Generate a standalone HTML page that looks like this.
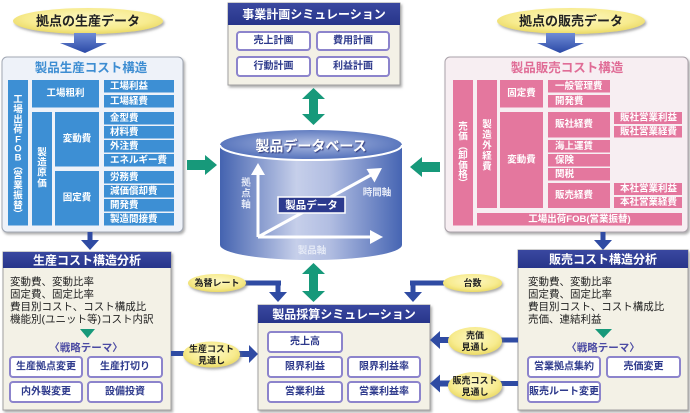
<!DOCTYPE html>
<html><head><meta charset="utf-8"><style>
html,body{margin:0;padding:0;background:#fff;}
svg{display:block;}
text{font-family:"Liberation Sans","Noto Sans CJK JP",sans-serif;dominant-baseline:central;text-anchor:middle;}
.c{fill:#fff;font-size:9.5px;font-weight:700;}
.l{text-anchor:start;}
.b{fill:#2e3a8c;font-size:10px;font-weight:700;}
.h{fill:#fff;font-size:12px;font-weight:700;}
.t{fill:#222;font-size:10.5px;text-anchor:start;}
.e{fill:#222;font-size:9px;font-weight:700;}
.ax{fill:#e4e9f6;font-size:9.5px;font-weight:700;}
</style></head><body>
<svg width="690" height="413" viewBox="0 0 690 413" xmlns="http://www.w3.org/2000/svg">
<defs>
 <radialGradient id="yel" cx="50%" cy="40%" r="60%">
  <stop offset="0" stop-color="#fdf8c4"/><stop offset="0.7" stop-color="#f7eb8e"/><stop offset="1" stop-color="#ead964"/>
 </radialGradient>
 <linearGradient id="cyl" x1="0" x2="1" y1="0" y2="0">
  <stop offset="0" stop-color="#4463b0"/><stop offset="0.42" stop-color="#c6cfea"/><stop offset="0.6" stop-color="#b2bee2"/><stop offset="1" stop-color="#4665b3"/>
 </linearGradient>
 <radialGradient id="cyltop" cx="50%" cy="45%" r="55%">
  <stop offset="0" stop-color="#aebce2"/><stop offset="1" stop-color="#5270ba"/>
 </radialGradient>
 <linearGradient id="barr" x1="0" y1="0" x2="0" y2="1">
  <stop offset="0" stop-color="#6f8cd6"/><stop offset="1" stop-color="#2b49a6"/>
 </linearGradient>
 <linearGradient id="hdr" x1="0" y1="0" x2="0" y2="1">
  <stop offset="0" stop-color="#3a48a0"/><stop offset="1" stop-color="#27358a"/>
 </linearGradient>
 <filter id="sh" x="-10%" y="-10%" width="130%" height="140%">
  <feDropShadow dx="1.5" dy="2" stdDeviation="1.3" flood-color="#777" flood-opacity="0.6"/>
 </filter>
 <filter id="tsh" x="-10%" y="-30%" width="120%" height="160%">
  <feDropShadow dx="1" dy="1" stdDeviation="0.6" flood-color="#1d2a70" flood-opacity="0.9"/>
 </filter>
</defs>

<!-- ===== Top-left ellipse + arrow ===== -->
<ellipse cx="88" cy="21" rx="75" ry="13" fill="url(#yel)" filter="url(#sh)"/>
<text x="88" y="21" style="font-size:13px;font-weight:700;fill:#222">拠点の生産データ</text>
<polygon points="74,33 96,33 96,43 107,43 85,53 60,43 74,43" fill="url(#barr)"/>

<!-- ===== Top-right ellipse + arrow ===== -->
<ellipse cx="571" cy="21" rx="74" ry="13" fill="url(#yel)" filter="url(#sh)"/>
<text x="571" y="21" style="font-size:13px;font-weight:700;fill:#222">拠点の販売データ</text>
<polygon points="546,33 575,33 575,43 584,43 560,53 537,43 546,43" fill="url(#barr)"/>

<!-- ===== Left cost box ===== -->
<rect x="2" y="57" width="181" height="175" rx="5" fill="#eef2f9" stroke="#a2a8b4" filter="url(#sh)"/>
<text x="91" y="68" style="font-size:12.5px;font-weight:700;fill:#3d8dd2">製品生産コスト構造</text>
<g fill="#3d8fd4">
 <rect x="8" y="80" width="20" height="145.5"/>
 <rect x="32" y="80" width="67" height="27.5"/>
 <rect x="32" y="112" width="20" height="113.5"/>
 <rect x="55" y="112" width="44" height="54.5"/>
 <rect x="55" y="171" width="44" height="54.5"/>
 <rect x="104" y="80" width="70" height="12.5"/>
 <rect x="104" y="95" width="70" height="12.5"/>
 <rect x="104" y="112" width="70" height="12.5"/>
 <rect x="104" y="126" width="70" height="12.5"/>
 <rect x="104" y="140" width="70" height="12.5"/>
 <rect x="104" y="154" width="70" height="12.5"/>
 <rect x="104" y="171" width="70" height="12.5"/>
 <rect x="104" y="185" width="70" height="12.5"/>
 <rect x="104" y="199" width="70" height="12.5"/>
 <rect x="104" y="213" width="70" height="12.5"/>
</g>
<g class="c">
 <text class="c" x="65.5" y="93.5">工場粗利</text>
 <text class="c" x="77" y="139">変動費</text>
 <text class="c" x="77" y="198">固定費</text>
 <text class="c l" x="110" y="86.5">工場利益</text>
 <text class="c l" x="110" y="101.5">工場経費</text>
 <text class="c l" x="110" y="118.5">金型費</text>
 <text class="c l" x="110" y="132.5">材料費</text>
 <text class="c l" x="110" y="146.5">外注費</text>
 <text class="c l" x="110" y="160.5">エネルギー費</text>
 <text class="c l" x="110" y="177.5">労務費</text>
 <text class="c l" x="110" y="191.5">減価償却費</text>
 <text class="c l" x="110" y="205.5">開発費</text>
 <text class="c l" x="110" y="219.5">製造間接費</text>
 <!-- vertical 工場出荷FOB(営業振替) -->
 <text class="c" x="18" y="100">工</text>
 <text class="c" x="18" y="110">場</text>
 <text class="c" x="18" y="120">出</text>
 <text class="c" x="18" y="130">荷</text>
 <text class="c" x="18" y="140">F</text>
 <text class="c" x="18" y="149">O</text>
 <text class="c" x="18" y="158">B</text>
 <text class="c" x="18" y="167">︵</text>
 <text class="c" x="18" y="176">営</text>
 <text class="c" x="18" y="186">業</text>
 <text class="c" x="18" y="196">振</text>
 <text class="c" x="18" y="206">替</text>
 <text class="c" x="18" y="215">︶</text>
 <!-- vertical 製造原価 -->
 <text class="c" x="42" y="153">製</text>
 <text class="c" x="42" y="163">造</text>
 <text class="c" x="42" y="173">原</text>
 <text class="c" x="42" y="184">価</text>
</g>

<!-- ===== Right cost box ===== -->
<rect x="445" y="57" width="243" height="175" rx="5" fill="#f7eef2" stroke="#aaa2aa" filter="url(#sh)"/>
<text x="567" y="68" style="font-size:12.5px;font-weight:700;fill:#e06c96">製品販売コスト構造</text>
<g fill="#e4779e">
 <rect x="453" y="80" width="20" height="145.5"/>
 <rect x="477" y="80" width="20" height="128"/>
 <rect x="500" y="80" width="43" height="27.5"/>
 <rect x="500" y="112" width="43" height="96"/>
 <rect x="548" y="80" width="62" height="12.5"/>
 <rect x="548" y="95" width="62" height="12.5"/>
 <rect x="548" y="112" width="62" height="25.5"/>
 <rect x="548" y="140" width="62" height="12.5"/>
 <rect x="548" y="154" width="62" height="12.5"/>
 <rect x="548" y="168" width="62" height="12.5"/>
 <rect x="548" y="183" width="62" height="25"/>
 <rect x="614" y="112" width="68" height="12"/>
 <rect x="614" y="126" width="68" height="11.5"/>
 <rect x="614" y="183" width="68" height="12"/>
 <rect x="614" y="197" width="68" height="11"/>
 <rect x="477" y="213" width="205" height="12.5"/>
</g>
<g>
 <text class="c" x="521.5" y="93.5">固定費</text>
 <text class="c" x="521.5" y="160">変動費</text>
 <text class="c l" x="555" y="86.5">一般管理費</text>
 <text class="c l" x="555" y="101.5">開発費</text>
 <text class="c l" x="555" y="124.5">販社経費</text>
 <text class="c l" x="555" y="146.5">海上運賃</text>
 <text class="c l" x="555" y="160.5">保険</text>
 <text class="c l" x="555" y="174.5">関税</text>
 <text class="c l" x="555" y="195.5">販売経費</text>
 <text class="c l" x="620" y="118">販社営業利益</text>
 <text class="c l" x="620" y="132">販社営業経費</text>
 <text class="c l" x="620" y="189">本社営業利益</text>
 <text class="c l" x="620" y="202.5">本社営業経費</text>
 <text class="c" x="579.5" y="219.5">工場出荷FOB(営業振替)</text>
 <text class="c" x="463" y="127">売</text>
 <text class="c" x="463" y="137">価</text>
 <text class="c" x="463" y="147">︵</text>
 <text class="c" x="463" y="156">卸</text>
 <text class="c" x="463" y="166">価</text>
 <text class="c" x="463" y="175">格</text>
 <text class="c" x="463" y="184">︶</text>
 <text class="c" x="487" y="125">製</text>
 <text class="c" x="487" y="135.5">造</text>
 <text class="c" x="487" y="146">外</text>
 <text class="c" x="487" y="156.5">経</text>
 <text class="c" x="487" y="167">費</text>
</g>

<!-- ===== Top simulation box ===== -->
<rect x="228" y="3" width="172" height="82" fill="#f3f1e6" stroke="#a0a0a0" filter="url(#sh)"/>
<rect x="228" y="3" width="172" height="22" fill="url(#hdr)"/>
<text class="h" x="314" y="14.5">事業計画シミュレーション</text>
<g fill="#fff" stroke="#8c84cc" stroke-width="2">
 <rect x="237" y="32" width="73" height="18" rx="3"/>
 <rect x="317" y="32" width="72" height="18" rx="3"/>
 <rect x="237" y="57" width="73" height="19" rx="3"/>
 <rect x="317" y="57" width="72" height="19" rx="3"/>
</g>
<text class="b" x="273.5" y="41">売上計画</text>
<text class="b" x="353" y="41">費用計画</text>
<text class="b" x="273.5" y="66.5">行動計画</text>
<text class="b" x="353" y="66.5">利益計画</text>

<!-- ===== Green arrows ===== -->
<g fill="#17997a">
 <polygon points="313.5,88 325,99 318,99 318,114 325,114 313.5,125 302,114 309,114 309,99 302,99"/>
 <polygon points="313.5,263 325,274 318,274 318,291 325,291 313.5,302 302,291 309,291 309,274 302,274"/>
 <polygon points="187,160 205,160 205,155 217,165 205,175 205,170 187,170"/>
 <polygon points="440,162 422,162 422,157 410,167 422,177 422,172 440,172"/>
</g>

<!-- ===== Cylinder ===== -->
<path d="M220,145 L220,245 A91,15 0 0 0 402,245 L402,145 Z" fill="url(#cyl)"/>
<ellipse cx="311" cy="145" rx="91" ry="15" fill="url(#cyltop)"/>
<path d="M220,145 A91,15 0 0 0 402,145" fill="none" stroke="#fff" stroke-width="2"/>
<text x="311" y="146" filter="url(#tsh)" style="font-size:14px;font-weight:700;fill:#fff">製品データベース</text>
<g stroke="#fff" stroke-width="3" fill="none">
 <line x1="258" y1="237" x2="258" y2="173"/>
 <line x1="258" y1="237" x2="371" y2="237"/>
 <line x1="258" y1="237" x2="371" y2="175"/>
</g>
<g fill="#fff">
 <polygon points="251,175 265,175 258,163"/>
 <polygon points="370,230 370,244 383,237"/>
 <polygon points="366.5,169 374.5,182.5 382,168"/>
</g>
<text class="ax" x="246" y="183">拠</text>
<text class="ax" x="246" y="194">点</text>
<text class="ax" x="246" y="205">軸</text>
<text class="ax" x="377" y="193">時間軸</text>
<text class="ax" x="312" y="251">製品軸</text>
<rect x="278" y="197" width="67" height="16" fill="#2c3a8e" stroke="#fff" stroke-width="1.5"/>
<text x="311.5" y="205.5" style="font-size:10.5px;font-weight:700;fill:#fff">製品データ</text>

<!-- ===== small navy arrows down ===== -->
<g fill="#2f4ba3">
 <rect x="87.5" y="232" width="5" height="9"/>
 <polygon points="81,240 99,240 90,250"/>
 <rect x="600.5" y="232" width="5" height="9"/>
 <polygon points="594,240 612,240 603,250"/>
</g>

<!-- ===== Left analysis box ===== -->
<rect x="3" y="252" width="168" height="158" fill="#f3f1e6" stroke="#a0a0a0" filter="url(#sh)"/>
<rect x="3" y="252" width="168" height="16" fill="url(#hdr)"/>
<text class="h" x="87" y="260.5">生産コスト構造分析</text>
<text class="t" x="10" y="282">変動費、変動比率</text>
<text class="t" x="10" y="294.5">固定費、固定比率</text>
<text class="t" x="10" y="307">費目別コスト、コスト構成比</text>
<text class="t" x="10" y="319.5">機能別(ユニット等)コスト内訳</text>
<polygon points="80,329 95,329 87.5,338" fill="#17997a"/>
<text x="86" y="348" style="font-size:10.5px;font-weight:700;fill:#4b4aa3">〈戦略テーマ〉</text>
<g fill="#fff" stroke="#8c84cc" stroke-width="2">
 <rect x="10" y="357" width="72" height="20" rx="3"/>
 <rect x="88" y="357" width="74" height="20" rx="3"/>
 <rect x="10" y="382" width="72" height="20" rx="3"/>
 <rect x="88" y="382" width="74" height="20" rx="3"/>
</g>
<text class="b" x="46" y="367">生産拠点変更</text>
<text class="b" x="125" y="367">生産打切り</text>
<text class="b" x="46" y="392">内外製変更</text>
<text class="b" x="125" y="392">設備投資</text>

<!-- ===== Right analysis box ===== -->
<rect x="518" y="250" width="170" height="160" fill="#f3f1e6" stroke="#a0a0a0" filter="url(#sh)"/>
<rect x="518" y="250" width="170" height="18" fill="url(#hdr)"/>
<text class="h" x="603" y="259.5">販売コスト構造分析</text>
<text class="t" x="528" y="282">変動費、変動比率</text>
<text class="t" x="528" y="294.5">固定費、固定比率</text>
<text class="t" x="528" y="307">費目別コスト、コスト構成比</text>
<text class="t" x="528" y="319.5">売価、連結利益</text>
<polygon points="595,329 612,329 603.5,338" fill="#17997a"/>
<text x="603" y="348" style="font-size:10.5px;font-weight:700;fill:#4b4aa3">〈戦略テーマ〉</text>
<g fill="#fff" stroke="#8c84cc" stroke-width="2">
 <rect x="528" y="357" width="72" height="20" rx="3"/>
 <rect x="607" y="357" width="73" height="20" rx="3"/>
 <rect x="528" y="382" width="72" height="20" rx="3"/>
</g>
<text class="b" x="564" y="367">営業拠点集約</text>
<text class="b" x="643.5" y="367">売価変更</text>
<text class="b" x="564" y="392">販売ルート変更</text>

<!-- ===== Product simulation box ===== -->
<rect x="258" y="305" width="172" height="105" fill="#f3f1e6" stroke="#a0a0a0" filter="url(#sh)"/>
<rect x="258" y="305" width="172" height="18" fill="url(#hdr)"/>
<text class="h" x="344" y="314.5">製品採算シミュレーション</text>
<g fill="#fff" stroke="#8c84cc" stroke-width="2">
 <rect x="268" y="332" width="74" height="20" rx="3"/>
 <rect x="268" y="357" width="74" height="20" rx="3"/>
 <rect x="348" y="357" width="72" height="20" rx="3"/>
 <rect x="268" y="382" width="74" height="20" rx="3"/>
 <rect x="348" y="382" width="72" height="20" rx="3"/>
</g>
<text class="b" x="305" y="342">売上高</text>
<text class="b" x="305" y="367">限界利益</text>
<text class="b" x="384" y="367">限界利益率</text>
<text class="b" x="305" y="392">営業利益</text>
<text class="b" x="384" y="392">営業利益率</text>

<!-- ===== connectors ===== -->
<g fill="#2f4ba3">
 <!-- 為替レート -->
 <rect x="244" y="280.5" width="37" height="5"/>
 <rect x="275.5" y="280.5" width="5" height="13"/>
 <polygon points="269,292 287,292 278,302"/>
 <!-- 台数 -->
 <rect x="410" y="280.5" width="36" height="5"/>
 <rect x="410.5" y="280.5" width="5" height="13"/>
 <polygon points="404,292 422,292 413,302"/>
 <!-- 生産コスト見通し -->
 <rect x="171" y="351" width="14" height="5"/>
 <rect x="238" y="351" width="12" height="6"/>
 <polygon points="249,345 249,363 258,354"/>
 <!-- 売価見通し -->
 <rect x="500" y="337.5" width="18" height="5"/>
 <rect x="438" y="337" width="12" height="6"/>
 <polygon points="440,331 440,349 430,340"/>
 <!-- 販売コスト見通し -->
 <rect x="500" y="381" width="18" height="5"/>
 <rect x="438" y="380.5" width="12" height="6"/>
 <polygon points="440,374.5 440,392.5 430,383.5"/>
</g>

<!-- small ellipses -->
<g filter="url(#sh)" fill="url(#yel)">
 <ellipse cx="217" cy="283" rx="29" ry="9"/>
 <ellipse cx="472.5" cy="283" rx="29.5" ry="9"/>
 <ellipse cx="211.5" cy="354.5" rx="28.5" ry="13"/>
 <ellipse cx="475" cy="341" rx="27" ry="14"/>
 <ellipse cx="475" cy="386" rx="27" ry="14"/>
</g>
<text class="e" x="217" y="283">為替レート</text>
<text class="e" x="472.5" y="283">台数</text>
<text class="e" x="211.5" y="349">生産コスト</text>
<text class="e" x="211.5" y="360.5">見通し</text>
<text class="e" x="475" y="335.5">売価</text>
<text class="e" x="475" y="347">見通し</text>
<text class="e" x="475" y="380.5">販売コスト</text>
<text class="e" x="475" y="392">見通し</text>
</svg>
</body></html>
